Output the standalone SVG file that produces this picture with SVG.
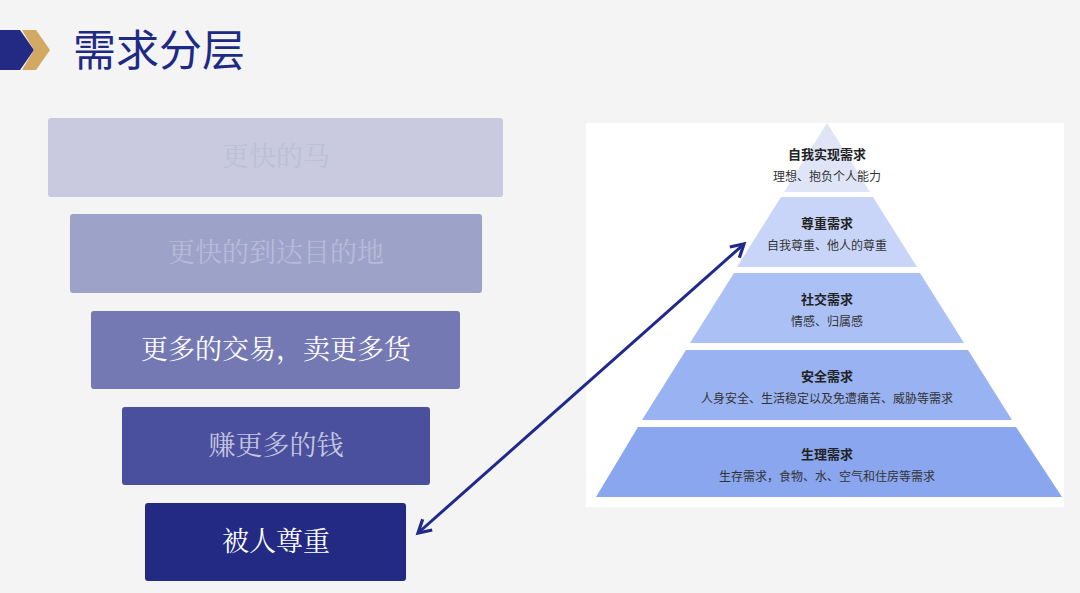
<svg xmlns="http://www.w3.org/2000/svg" width="1080" height="593" viewBox="0 0 1080 593">
<defs>
<style>
.t{font-family:"Noto Sans CJK SC",sans-serif;text-anchor:middle}
.b{font-family:"Noto Serif CJK SC","Noto Sans CJK SC",serif;text-anchor:middle;font-size:27px}
.h{font-size:13px;font-weight:bold;fill:#222}
.s{font-size:12px;fill:#333}
</style>
<marker id="ah" viewBox="0 0 10 10" refX="8" refY="5" markerWidth="6" markerHeight="6" orient="auto-start-reverse"><path d="M1,1 L8,5 L1,9" fill="none" stroke="#1f2a8a" stroke-width="1.8"/></marker>
</defs>
<rect width="1080" height="593" fill="#f4f4f5"/>
<g id="title">
<polygon points="0,30 20,30 34,50 20,70 0,70" fill="#232a84"/>
<polygon points="22,30 36,30 50,50 36,70 22,70 34,50" fill="#d2a862"/>
<text x="73" y="66" font-family="Noto Sans CJK SC,sans-serif" font-size="43" fill="#1f2a85">需求分层</text>
</g>
<g id="box1"><rect x="48" y="118" width="455" height="79" rx="3" fill="#c9cadf"/><text class="b" x="276" y="166" fill="#bdbfd5">更快的马</text></g>
<g id="box2"><rect x="70" y="214" width="412" height="79" rx="3" fill="#9da2c9"/><text class="b" x="276" y="262" fill="#b7bbd9">更快的到达目的地</text></g>
<g id="box3"><rect x="91" y="311" width="369" height="78" rx="3" fill="#7478b3"/><text class="b" x="276" y="359" fill="#ffffff">更多的交易，卖更多货</text></g>
<g id="box4"><rect x="122" y="407" width="308" height="78" rx="3" fill="#4a4f9e"/><text class="b" x="276" y="455" fill="#c3c5de">赚更多的钱</text></g>
<g id="box5"><rect x="145" y="503" width="261" height="78" rx="3" fill="#232a84"/><text class="b" x="276" y="551" fill="#ffffff">被人尊重</text></g>
<g id="pyramid">
<rect x="586" y="123" width="478" height="384" fill="#ffffff"/>
<g id="tier1"><polygon points="827,123 870,192 784,192" fill="#dfe5f7"/><text class="t h" x="827" y="159">自我实现需求</text><text class="t s" x="827" y="181">理想、抱负个人能力</text></g>
<g id="tier2"><polygon points="781,197 873,197 917,267 737,267" fill="#c9d5f8"/><text class="t h" x="827" y="228">尊重需求</text><text class="t s" x="827" y="250">自我尊重、他人的尊重</text></g>
<g id="tier3"><polygon points="734,273 920,273 964,343 690,343" fill="#abc0f5"/><text class="t h" x="827" y="304">社交需求</text><text class="t s" x="827" y="326">情感、归属感</text></g>
<g id="tier4"><polygon points="686,350 968,350 1012,420 642,420" fill="#98b2f2"/><text class="t h" x="827" y="381">安全需求</text><text class="t s" x="827" y="403">人身安全、生活稳定以及免遭痛苦、威胁等需求</text></g>
<g id="tier5"><polygon points="638,427 1016,427 1062,497 596,497" fill="#8aa6ef"/><text class="t h" x="827" y="459">生理需求</text><text class="t s" x="827" y="481">生存需求，食物、水、空气和住房等需求</text></g>
</g>
<g id="connectors">
<line x1="418" y1="533" x2="744" y2="244" stroke="#1f2a8a" stroke-width="3" marker-start="url(#ah)" marker-end="url(#ah)"/>
</g>
</svg>
